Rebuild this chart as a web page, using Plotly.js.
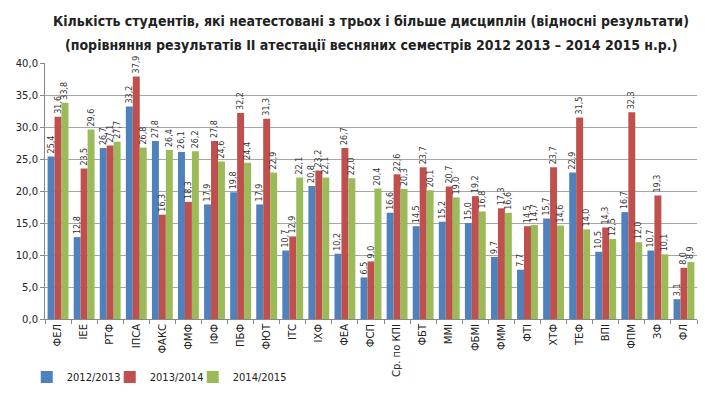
<!DOCTYPE html>
<html><head><meta charset="utf-8">
<script src="https://cdn.plot.ly/plotly-3.0.1.min.js"></script>
<style>body{margin:0;background:#fff}#chart{width:705px;height:400px}</style>
</head><body><div id="chart"></div>
<script>
const categories = ["ФЕЛ","ІЕЕ","РТФ","ІПСА","ФАКС","ФМФ","ІФФ","ПБФ","ФЮТ","ІТС","ІХФ","ФЕА","ФСП","Ср. по КПІ","ФБТ","ММІ","ФБМІ","ФММ","ФТІ","ХТФ","ТЕФ","ВПІ","ФПМ","ЗФ","ФЛ"];
const seriesNames = ["2012/2013","2013/2014","2014/2015"];
const titleLines = ["Кількість студентів, які неатестовані з трьох і більше дисциплін (відносні результати)",
  "(порівняння результатів ІІ атестації весняних семестрів 2012 2013 – 2014 2015 н.р.)"];
const v2012 = [25.4,12.8,26.7,33.2,27.8,26.1,17.9,19.8,17.9,10.7,20.8,10.2,6.5,16.6,14.5,15.2,15.0,9.7,7.7,15.7,22.9,10.5,16.7,10.7,3.1];
const v2013 = [31.6,23.5,27.1,37.9,16.3,18.3,27.8,32.2,31.3,12.9,23.2,26.7,9.0,22.6,23.7,20.7,19.2,17.3,14.5,23.7,31.5,14.3,32.3,19.3,8.0];
const v2014 = [33.8,29.6,27.7,26.8,26.4,26.2,24.6,24.4,22.9,22.1,22.1,22.0,20.4,20.3,20.1,19.0,16.8,16.6,14.7,14.6,14.0,12.5,12.0,10.1,8.9];
const colors = ["#4F81BD","#C0504D","#9BBB59"];
const vals = [v2012,v2013,v2014];
const fmt = v => v.toFixed(1).replace('.', ',');
const traces = vals.map((arr,i)=>({
  type:'bar', name:seriesNames[i], x:categories, y:arr,
  marker:{color:colors[i]},
  text:arr.map(fmt), textposition:'outside', textangle:-90,
  constraintext:'none', cliponaxis:false,
  textfont:{family:'DejaVu Sans', size:8, color:'#333'},
  hoverinfo:'none'
}));
// invisible spacer entry so the last legend label is not clipped
traces.push({type:'scatter', mode:'markers', x:[null], y:[null], name:' ', marker:{opacity:0, color:'rgba(0,0,0,0)'}, hoverinfo:'none'});
const tfont = {family:'DejaVu Sans Condensed', size:14, color:'#222', weight:'bold'};
const layout = {
  width:705, height:400,
  margin:{l:45,r:8,t:63,b:73},
  paper_bgcolor:'#fff', plot_bgcolor:'#fff',
  annotations:[
    {text:titleLines[0], xref:'paper', yref:'paper', x:0.5, y:1.163, xanchor:'center', yanchor:'middle', showarrow:false, font:tfont},
    {text:titleLines[1], xref:'paper', yref:'paper', x:0.5, y:1.072, xanchor:'center', yanchor:'middle', showarrow:false, font:tfont}
  ],
  bargap:0.2, bargroupgap:0,
  separators:',.',
  xaxis:{tickangle:-90, tickfont:{family:'DejaVu Sans', size:10, color:'#222'},
    showline:true, linecolor:'#888', ticks:'outside', tickson:'boundaries', ticklen:4, tickcolor:'#888',
    automargin:false},
  yaxis:{range:[0,40], dtick:5, tickformat:'.1f', tickfont:{family:'DejaVu Sans', size:10, color:'#222'},
    showline:true, linecolor:'#888', ticks:'outside', ticklen:4, tickcolor:'#888',
    gridcolor:'#A6A6A6', gridwidth:1, zeroline:false, automargin:false},
  showlegend:true,
  legend:{orientation:'h', x:-0.028, xanchor:'left', y:-0.17, yanchor:'top',
    font:{family:'DejaVu Sans Condensed', size:11, color:'#222'}, itemwidth:30, entrywidth:38, entrywidthmode:'pixels', traceorder:'normal'},
  font:{family:'DejaVu Sans'}
};
Plotly.newPlot('chart', traces, layout, {displayModeBar:false, staticPlot:true});
</script></body></html>
